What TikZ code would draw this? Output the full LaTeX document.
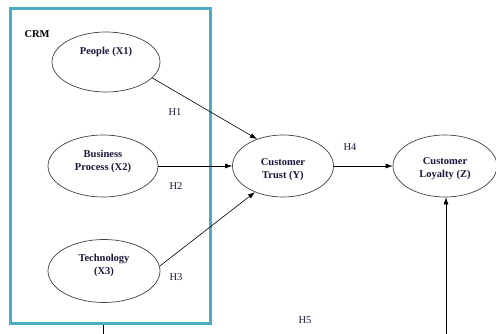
\documentclass[tikz,border=0pt]{standalone}
\usepackage{fontspec}
\setmainfont{Liberation Serif}
\usetikzlibrary{shapes.geometric,arrows.meta}
\definecolor{crmblue}{RGB}{75,172,198}
\definecolor{labelnavy}{RGB}{30,20,60}

\begin{document}
\begin{tikzpicture}[x=1pt, y=-1pt,
    construct/.style={ellipse, draw=black!75, line width=0.7pt, inner sep=0pt,
        align=center, font=\fontsize{10.5}{13}\selectfont\bfseries, text=labelnavy},
    hyp/.style={font=\fontsize{10.5}{13}\selectfont, text=labelnavy},
    path/.style={draw, line width=0.6pt, -{Latex[length=7pt, width=5pt]}}]
    \useasboundingbox (0, 0) rectangle (496, 334);
    \clip (0, 0) rectangle (496, 334);
    \begin{scope}
        % CRM box
        \node[draw=crmblue, line width=3pt, minimum width=200pt, minimum height=315pt,
            inner sep=0pt] (crm) at (110.5, 166) {};
        \node[font=\fontsize{10.5}{13}\selectfont\bfseries, anchor=west] (crmlabel) at (21, 34) {CRM};
        % constructs
        \node[construct, minimum width=108pt, minimum height=60pt] (X1) at (106, 62) {};
        \node[construct, minimum width=110pt, minimum height=62pt] (X2) at (103, 166) {};
        \node[construct, minimum width=112pt, minimum height=63pt] (X3) at (104, 271) {};
        \node[construct, minimum width=101pt, minimum height=62pt] (Y) at (283, 166) {};
        \node[construct, minimum width=104pt, minimum height=62pt] (Z) at (445, 166) {};
        % construct labels
        \node[construct, draw=none] (X1text) at (106, 52) {People (X1)};
        \node[construct, draw=none] (X2text) at (103, 161) {Business\\Process (X2)};
        \node[construct, draw=none] (X3text) at (104, 265) {Technology\\(X3)};
        \node[construct, draw=none] (Ytext) at (283, 170) {Customer\\Trust (Y)};
        \node[construct, draw=none] (Ztext) at (445, 169) {Customer\\Loyalty (Z)};
        % hypotheses
        \draw[path] (X1.-19) -- (Y.134);
        \draw[path] (X2.east) -- (Y.west);
        \draw[path] (X3.5) -- (Y.-137);
        \draw[path] (Y.east) -- (Z.west);
        \coordinate (crmout) at (103, 334);
        \coordinate (zin) at (446, 334);
        \draw[line width=0.6pt] (crm.south -| crmout) -- (crmout);
        \draw[path] (zin) -- (zin |- Z.south);
        \node[hyp] (H1) at (175, 112) {H1};
        \node[hyp] (H2) at (176, 186) {H2};
        \node[hyp] (H3) at (176, 277) {H3};
        \node[hyp] (H4) at (350, 147) {H4};
        \node[hyp] (H5) at (305, 320) {H5};
    \end{scope}
\end{tikzpicture}
\end{document}
